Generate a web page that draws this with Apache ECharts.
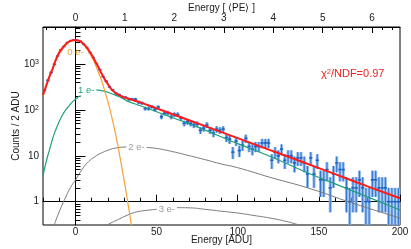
<!DOCTYPE html>
<html><head><meta charset="utf-8">
<script src="https://cdn.jsdelivr.net/npm/echarts@6/dist/echarts.min.js"></script>
<style>html,body{margin:0;padding:0;background:#fff}#c{width:411px;height:249px}</style>
</head><body><div id="c"></div>
<script>
// ---------- data ----------
const binCenters = [-19,-17,-15,-13,-11,-9,-7,-5,-3,-1,1,3,5,7,9,11,13,15,17,19,21,23,25,27,29,31,33,35,37,39,41,43,45,47,49,51,53,55,57,59,61,63,65,67,69,71,73,75,77,79,81,83,85,87,89,91,93,95,97,99,101,103,105,107,109,111,113,115,117,119,121,123,125,127,129,131,133,135,137,139,141,143,145,147,149,151,153,155,157,159,161,163,165,167,169,171,173,175,177,179,181,183,185,187,189,191,193,195,197,199];
const binCounts = [270,440,650,990,1480,2030,2400,2930,3150,3340,3270,3130,2690,2290,1770,1380,990,755,530,420,318,270,228,212,190,186,170,170,170,145,140,107,107,117,102,115,71,85,85,71,79,79,66,51,55,51,47,49,36,40,47,36,31,38,36,38,25,23,12,21,13,17,24,16,14,16,16,19,19,19,8,12,10,14,8,10,10,7,9,9,7,4,9,4,8,3,3,5,2,4,7,5,5,2,1,2,2,3,2,1,1,3,3,2,2,2,1,1,1,1];

const totalX = [-20,-18,-16,-14,-12,-10,-8,-6,-4,-2,0,2,4,6,8,10,12,14,16,18,20,22,24,26,28,30,32,34,36,40,50,60,80,100,120,140,160,180,200];
const totalY = [211,339,537,805,1259,1778,2239,2692,3090,3273,3334,3236,2951,2512,2042,1585,1175,871,631,468,363,288,245,219,202,188,178,170,160,146,108,80.4,44.2,24.3,13.3,7.31,3.98,2.16,1.19];

const e0X = [-20,-18,-16,-14,-12,-10,-8,-6,-4,-2,0,2,4,6,8,10,12,14,16,18,20,22,24,26,28,30,32,34,36];
const e0Y = [207,331,525,776,1202,1660,2089,2570,2951,3199,3273,3162,2851,2399,1905,1413,1023,676,447,260,151,79,39,17.8,7.2,2.9,1.1,0.39,0.13];

const e1X = [-20,-18,-16,-14,-12,-10,-8,-6,-4,-2,0,2,4,6,8,10,12,14,16,18,20,24,28,32,36,40,50,60,80,95,100,120,147,160,180,200];
const e1Y = [3.63,7.59,13.5,24.0,38.0,56.2,77.6,100,123,148,170,195,219,240,257,266,269,269,263,254,243,214,186,155,138,123,91.2,67.6,36.3,21.6,18.4,9.66,3.72,2.45,1.27,0.66];

const e2X = [-14,-13,-12,-10,-8,-6,-4,-2,0,4,8,12,16,20,25,30,35,40,45,50,60,70,80,90,100,120,145,170,200];
const e2Y = [0.24,0.31,0.40,0.60,0.89,1.26,1.78,2.34,2.95,5.01,7.41,9.55,11.5,13.2,14.8,15.5,15.7,15.5,15.1,14.5,12.3,10.1,8.22,6.61,5.50,3.39,1.91,0.95,0.44];

const e3X = [18,19.5,23,27,31,35,40,46,55,64,72,80,90,101,110,120,130,138,142];
const e3Y = [0.28,0.31,0.36,0.42,0.49,0.56,0.62,0.66,0.71,0.74,0.73,0.68,0.62,0.56,0.50,0.44,0.37,0.31,0.28];

const curveLabelText = ['0 e-','1 e-','2 e-','3 e-'];
const curveLabelX = [0, 6.6, 37.6, 56.3];
const curveLabelY = [1820, 264, 15.2, 0.69];

const adcTicks = [0,50,100,150,200];
const peTicks = [0,1,2,3,4,5,6];
const decadeTicks = [1,10,100,1000];
const chiText = 'χ{s|2}/NDF=0.97';

// ---------- config ----------
const X_MIN = -20, X_MAX = 200;
const ADU_PER_PE = 30.47;
const Y_MIN = -0.508, Y_MAX = 3.806;
const L = v => Math.log10(v);
const FONT = '"Liberation Sans", Arial, Helvetica, sans-serif';
const TXT = '#1a1a1a';
const labelColors = ['#f6a23a', '#1f9e7a', '#9a9a9a', '#9a9a9a'];

const minorX = []; for (let v = -20; v <= 200; v += 10) if (v % 50 !== 0) minorX.push(v);
const minorPE = []; for (let i = -3; i <= 32; i++) { const v = i * 0.2; if (i % 5 !== 0 && v > X_MIN/ADU_PER_PE && v < X_MAX/ADU_PER_PE) minorPE.push(+v.toFixed(2)); }
const minorY = []; for (let n = -1; n <= 3; n++) for (let k = 2; k <= 9; k++) { const v = Math.log10(k * Math.pow(10, n)); if (v > Y_MIN && v < Y_MAX) minorY.push(v); }

const pts = binCenters.map((x, i) => {
  const n = binCounts[i], e = Math.sqrt(n);
  const lo = n - e > 0 ? Math.max(L(n - e), Y_MIN - 0.05) : Y_MIN - 0.05;
  return [x, L(n), lo, L(n + e)];
});
const toLine = (xs, ys) => xs.map((x, i) => [x, L(ys[i])]);

const chart = echarts.init(document.getElementById('c'), null, {renderer: 'canvas'});
const baseX = {type: 'value', min: X_MIN, max: X_MAX, gridIndex: 0, splitLine: {show: false}};
const nameStyle = {fontSize: 10, color: TXT, fontFamily: FONT};
chart.setOption({
  animation: false,
  backgroundColor: '#fff',
  textStyle: {fontFamily: FONT},
  grid: {left: 43, right: 11, top: 27, bottom: 24, show: true, borderColor: '#000', borderWidth: 1, outerBoundsMode: 'none'},
  xAxis: [
    Object.assign({}, baseX, {position: 'bottom',
      name: 'Energy [ADU]', nameLocation: 'middle', nameGap: 10, nameMoveOverlap: false,
      nameTextStyle: Object.assign({verticalAlign: 'top'}, nameStyle),
      axisLine: {show: true, lineStyle: {color: '#000', width: 1}},
      axisTick: {inside: true, length: 7, customValues: adcTicks, lineStyle: {color: '#000'}},
      axisLabel: {customValues: adcTicks, margin: 2, fontSize: 10, color: TXT, fontFamily: FONT}}),
    Object.assign({}, baseX, {position: 'bottom',
      axisLine: {show: false}, axisLabel: {show: false},
      axisTick: {inside: true, length: 4, customValues: minorX, lineStyle: {color: '#000'}}}),
    {type: 'value', min: X_MIN / ADU_PER_PE, max: X_MAX / ADU_PER_PE, position: 'top', splitLine: {show: false},
      name: 'Energy [ ⟨PE⟩ ]', nameLocation: 'middle', nameGap: 14, nameMoveOverlap: false,
      nameTextStyle: Object.assign({verticalAlign: 'bottom'}, nameStyle),
      axisLine: {show: true, lineStyle: {color: '#000', width: 1}},
      axisTick: {inside: true, length: 6, customValues: peTicks, lineStyle: {color: '#000'}},
      axisLabel: {customValues: peTicks, margin: 4, fontSize: 10, color: TXT, fontFamily: FONT, formatter: v => String(Math.round(v))}},
    {type: 'value', min: X_MIN / ADU_PER_PE, max: X_MAX / ADU_PER_PE, position: 'top', splitLine: {show: false},
      axisLine: {show: false}, axisLabel: {show: false},
      axisTick: {inside: true, length: 3, customValues: minorPE, lineStyle: {color: '#000'}}}
  ],
  yAxis: [
    {type: 'value', min: Y_MIN, max: Y_MAX, position: 'left', splitLine: {show: false},
      name: 'Counts / 2 ADU', nameLocation: 'middle', nameGap: 22, nameMoveOverlap: false,
      nameTextStyle: Object.assign({verticalAlign: 'bottom'}, nameStyle),
      axisLine: {show: true, lineStyle: {color: '#000', width: 1}},
      axisTick: {inside: true, length: 10, customValues: decadeTicks.map(L), lineStyle: {color: '#000'}},
      axisLabel: {customValues: decadeTicks.map(L), margin: 4, fontSize: 10, color: TXT, fontFamily: FONT,
        formatter: v => { const e = Math.round(v); return e === 0 ? '1' : e === 1 ? '10' : '10{s|' + e + '}'; },
        rich: {s: {fontSize: 7, verticalAlign: 'top', color: TXT, fontFamily: FONT}}}},
    {type: 'value', min: Y_MIN, max: Y_MAX, position: 'left', splitLine: {show: false},
      axisLine: {show: false}, axisLabel: {show: false},
      axisTick: {inside: true, length: 5, customValues: minorY, lineStyle: {color: '#000'}}}
  ],
  series: [
    {type: 'custom', name: 'data', xAxisIndex: 0, yAxisIndex: 0, clip: true, z: 2,
      data: pts,
      renderItem: function (params, api) {
        const x = api.value(0), y = api.value(1), lo = api.value(2), hi = api.value(3);
        const c = api.coord([x, y]);
        const cl = api.coord([x, lo]), ch = api.coord([x, hi]);
        const xl = api.coord([x - 1, y])[0], xr = api.coord([x + 1, y])[0];
        return {type: 'group', children: [
          {type: 'rect', shape: {x: c[0] - 1.5, y: ch[1], width: 3, height: cl[1] - ch[1]}, style: {fill: '#8fb9ea'}},
          {type: 'line', shape: {x1: c[0], y1: ch[1], x2: c[0], y2: cl[1]}, style: {stroke: '#2f72d0', lineWidth: 1}},
          {type: 'line', shape: {x1: xl, y1: c[1], x2: xr, y2: c[1]}, style: {stroke: '#1e5fc4', lineWidth: 1.6}}
        ]};
      }},
    {type: 'line', name: '3e', data: toLine(e3X, e3Y), smooth: true, symbol: 'none', z: 3, lineStyle: {color: '#7a7a7a', width: 1}},
    {type: 'line', name: '2e', data: toLine(e2X, e2Y), smooth: true, symbol: 'none', z: 3, lineStyle: {color: '#7a7a7a', width: 1}},
    {type: 'line', name: '1e', data: toLine(e1X, e1Y), smooth: true, symbol: 'none', z: 3, lineStyle: {color: '#1f9e7a', width: 1.2}},
    {type: 'line', name: '0e', data: toLine(e0X, e0Y), smooth: true, symbol: 'none', z: 3, lineStyle: {color: '#f6a23a', width: 1.2}},
    {type: 'line', name: 'total', data: toLine(totalX, totalY), smooth: true, symbol: 'none', z: 4, lineStyle: {color: '#ff1a1a', width: 2}},
    {type: 'custom', name: 'labels', z: 6, silent: true, clip: false,
      data: curveLabelText.map((t, i) => [curveLabelX[i], L(curveLabelY[i]), i]),
      renderItem: function (params, api) {
        const i = api.value(2);
        const c = api.coord([api.value(0), api.value(1)]);
        return {type: 'text', x: c[0], y: c[1], z2: 10,
          style: {text: curveLabelText[i], fill: labelColors[i], font: '9.5px ' + FONT,
            align: 'center', verticalAlign: 'middle',
            backgroundColor: i === 0 ? null : '#fff', padding: [0, 2]}};
      }}
  ],
  graphic: [
    {type: 'text', left: 321, top: 68, z: 10,
      style: {text: chiText, fill: '#f02020', font: '11px ' + FONT,
        rich: {s: {fontSize: 7.5, verticalAlign: 'top', fill: '#f02020', fontFamily: FONT}}}}
  ]
});
</script></body></html>
